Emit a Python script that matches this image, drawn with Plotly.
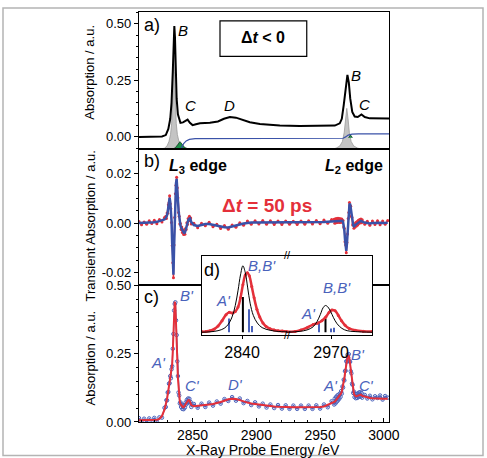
import plotly.graph_objects as go

# ---------------- DATA ----------------
# Panel a) ground-state absorption (black)
Ea = [2808, 2820, 2826, 2829, 2831, 2832.5, 2833.5, 2834.5, 2835.2, 2835.7, 2836.2, 2836.8, 2837.5,
      2838.5, 2840.5, 2842.5, 2844.5, 2846.1, 2847.9, 2850, 2852.6, 2855.8, 2863.6, 2869.9, 2874.6,
      2879.3, 2884, 2888.7, 2894.9, 2902.8, 2910.6, 2918.4, 2934, 2949.7, 2961.5, 2965.4, 2967,
      2968.5, 2970.1, 2971.4, 2972.5, 2973.6, 2975.2, 2977.1, 2979.5, 2982.4, 2985, 2988.9, 3004]
abs_a = [0.0, 0.0, 0.002, 0.008, 0.035, 0.08, 0.15, 0.29, 0.42, 0.49, 0.44, 0.30, 0.17,
         0.10, 0.062, 0.064, 0.070, 0.076, 0.062, 0.052, 0.056, 0.060, 0.062, 0.068, 0.080,
         0.088, 0.085, 0.075, 0.065, 0.057, 0.052, 0.050, 0.048, 0.048, 0.050, 0.060, 0.080,
         0.14, 0.22, 0.274, 0.24, 0.17, 0.11, 0.090, 0.088, 0.099, 0.088, 0.082, 0.081]
# calculated transitions (gray) and (green), edge step (blue)
gray3_E = [2824, 2828, 2830, 2831.5, 2832.7, 2833.6, 2834.4, 2835.0, 2835.4, 2835.8, 2836.4, 2837.2,
           2838.1, 2839.3, 2841, 2844, 2848]
gray3_v = [-0.055, -0.05, -0.04, -0.02, 0.01, 0.06, 0.15, 0.29, 0.36, 0.29, 0.15, 0.06,
           0.01, -0.02, -0.04, -0.05, -0.055]
green3_E = [2834, 2836.5, 2838.3, 2839.3, 2840.1, 2840.9, 2842, 2844, 2848]
green3_v = [-0.055, -0.048, -0.035, -0.026, -0.021, -0.026, -0.036, -0.048, -0.055]
gray2_E = [2958, 2962.5, 2965.5, 2967.5, 2968.9, 2969.9, 2970.9, 2971.9, 2972.9, 2974.3, 2976.3, 2979.5, 2984]
gray2_v = [-0.055, -0.05, -0.04, -0.02, 0.02, 0.08, 0.126, 0.08, 0.02, -0.02, -0.04, -0.05, -0.055]
green2_E = [2972.3, 2973.2, 2973.8, 2974.4, 2975.3]
green2_v = [-0.004, 0.004, 0.008, 0.004, -0.004]
step_E = [2808, 2840, 2841.5, 2843, 2845, 2847.5, 2852, 2965, 2968, 2970, 2972, 2975, 2980, 3004]
step_v = [-0.08, -0.08, -0.045, -0.03, -0.018, -0.011, -0.008, -0.008, -0.006, 0.0, 0.008, 0.012, 0.013, 0.013]
fill_base = -0.08

# Measurement grid for panels b) and c)
E_data = [2808, 2810, 2812, 2814, 2816, 2818, 2820, 2822, 2824, 2826, 2828,
          2829, 2829.5, 2830, 2830.5, 2831, 2831.5, 2832, 2832.5, 2833, 2833.5,
          2834, 2834.5, 2835, 2835.5, 2836, 2836.5, 2837, 2837.5, 2838, 2838.5,
          2839, 2839.5, 2840, 2840.5, 2841, 2841.5, 2842, 2842.5, 2843, 2843.5,
          2844, 2844.5, 2845, 2845.5, 2846, 2846.5, 2847, 2847.5, 2848, 2848.5, 2849,
          2851, 2854, 2857, 2860, 2863, 2866, 2869, 2872, 2875, 2878,
          2881, 2884, 2887, 2890, 2893, 2896, 2899, 2902, 2905, 2908,
          2911, 2914, 2917, 2920, 2923, 2926, 2929, 2932, 2935, 2938,
          2941, 2944, 2947, 2950, 2953, 2956, 2959,
          2961, 2961.5, 2962, 2962.5, 2963, 2963.5, 2964, 2964.5, 2965, 2965.5,
          2966, 2966.5, 2967, 2967.5, 2968, 2968.5, 2969, 2969.5, 2970, 2970.5,
          2971, 2971.5, 2972, 2972.5, 2973, 2973.5, 2974, 2974.5, 2975, 2975.5,
          2976, 2976.5, 2977, 2977.5, 2978, 2978.5, 2979, 2979.5, 2980, 2980.5,
          2981, 2981.5, 2982, 2982.5, 2983,
          2985, 2987, 2989, 2991, 2993, 2995, 2997, 2999, 3001, 3003]

# Panel b) transient absorption: fit (blue) and data (red)
trans_fit = [0.0000, 0.0000, 0.0000, 0.0001, 0.0001, 0.0002, 0.0003, 0.0005, 0.0008, 0.0012, 0.0015,
             0.0020, 0.0025, 0.0032, 0.0045, 0.0065, 0.0088, 0.0102, 0.0085, 0.0050, 0.0010,
             -0.0080, -0.0170, -0.0208, -0.0100, 0.0030, 0.0110, 0.0160, 0.0178, 0.0150, 0.0095,
             0.0050, 0.0020, 0.0005, -0.0010, -0.0018, -0.0025, -0.0030, -0.0035, -0.0038, -0.0040,
             -0.0038, -0.0030, -0.0018, -0.0008, 0.0002, 0.0010, 0.0016, 0.0020, 0.0019, 0.0012, 0.0004,
             -0.0008, -0.0012, -0.0008, -0.0004, -0.0004, -0.0008, -0.0012, -0.0015, -0.0017, -0.0018,
             -0.0015, -0.0010, -0.0006, -0.0002, 0.0001, 0.0002, 0.0002, 0.0002, 0.0003, 0.0002,
             0.0002, 0.0001, 0.0001, 0.0001, 0.0001, 0.0001, 0.0001, 0.0001, 0.0001, 0.0002,
             0.0002, 0.0002, 0.0003, 0.0003, 0.0004, 0.0005, 0.0006,
             0.0007, 0.0007, 0.0008, 0.0008, 0.0009, 0.0009, 0.0010, 0.0010, 0.0010, 0.0010,
             0.0010, 0.0010, 0.0010, 0.0009, 0.0004, -0.0008, -0.0030, -0.0065, -0.0095, -0.0112,
             -0.0085, -0.0035, 0.0010, 0.0050, 0.0075, 0.0078, 0.0060, 0.0035, 0.0015, 0.0000,
             -0.0010, -0.0013, -0.0012, -0.0009, -0.0006, -0.0004, -0.0002, 0.0000, 0.0003, 0.0005,
             0.0007, 0.0008, 0.0009, 0.0008, 0.0006,
             0.0002, -0.0001, -0.0002, 0.0000, 0.0001, 0.0000, 0.0001, 0.0000, 0.0001, 0.0001]
trans_data = [0.0006, -0.0007, 0.0004, -0.0005, 0.0009, -0.0002, 0.0011, -0.0003, 0.0014, 0.0004, 0.0022,
              0.0028, 0.0018, 0.0041, 0.0040, 0.0074, 0.0082, 0.0110, 0.0078, 0.0058, 0.0002,
              -0.0090, -0.0160, -0.0220, -0.0088, 0.0022, 0.0118, 0.0152, 0.0185, 0.0142, 0.0102,
              0.0043, 0.0028, -0.0004, -0.0002, -0.0026, -0.0016, -0.0038, -0.0027, -0.0046, -0.0032,
              -0.0045, -0.0022, -0.0026, 0.0001, -0.0006, 0.0018, 0.0009, 0.0028, 0.0012, 0.0020, -0.0004,
              -0.0001, -0.0019, -0.0001, -0.0011, 0.0003, -0.0015, -0.0005, -0.0022, -0.0010, -0.0025,
              -0.0008, -0.0017, 0.0001, -0.0009, 0.0008, -0.0005, 0.0009, -0.0004, 0.0010, -0.0005,
              0.0009, -0.0006, 0.0008, -0.0006, 0.0008, -0.0005, 0.0007, -0.0006, 0.0008, -0.0005,
              0.0009, -0.0004, 0.0010, -0.0003, 0.0012, -0.0001, 0.0014,
              0.0015, -0.0001, 0.0017, 0.0001, 0.0018, 0.0002, 0.0019, 0.0003, 0.0018, 0.0002,
              0.0017, 0.0004, 0.0016, 0.0002, 0.0010, -0.0016, -0.0022, -0.0075, -0.0088, -0.0120,
              -0.0078, -0.0044, 0.0018, 0.0043, 0.0083, 0.0070, 0.0068, 0.0028, 0.0022, -0.0008,
              -0.0002, -0.0021, -0.0004, -0.0016, 0.0002, -0.0012, 0.0006, -0.0008, 0.0011, -0.0002,
              0.0014, 0.0001, 0.0016, 0.0001, 0.0013,
              -0.0005, 0.0007, -0.0009, 0.0008, -0.0006, 0.0009, -0.0007, 0.0008, -0.0005, 0.0010]

# Panel c) excited-state absorption: fit (red) and data (blue)
exc_fit = [0.006, 0.006, 0.006, 0.006, 0.006, 0.007, 0.007, 0.008, 0.011, 0.022, 0.045,
           0.062, 0.072, 0.085, 0.100, 0.116, 0.132, 0.148, 0.160, 0.168, 0.185,
           0.210, 0.260, 0.330, 0.400, 0.440, 0.430, 0.380, 0.310, 0.230, 0.160,
           0.115, 0.090, 0.075, 0.066, 0.062, 0.058, 0.055, 0.054, 0.054, 0.056,
           0.060, 0.065, 0.070, 0.074, 0.077, 0.079, 0.080, 0.079, 0.074, 0.067, 0.062,
           0.058, 0.059, 0.060, 0.062, 0.064, 0.066, 0.069, 0.073, 0.078, 0.083,
           0.085, 0.084, 0.080, 0.075, 0.071, 0.068, 0.066, 0.063, 0.061, 0.059,
           0.058, 0.057, 0.056, 0.055, 0.055, 0.054, 0.054, 0.054, 0.054, 0.054,
           0.054, 0.054, 0.055, 0.055, 0.057, 0.062, 0.068,
           0.072, 0.074, 0.077, 0.080, 0.083, 0.086, 0.088, 0.090, 0.093, 0.096,
           0.100, 0.105, 0.112, 0.122, 0.134, 0.147, 0.160, 0.178, 0.196, 0.214,
           0.229, 0.238, 0.242, 0.240, 0.230, 0.213, 0.195, 0.170, 0.148, 0.128,
           0.113, 0.104, 0.098, 0.095, 0.094, 0.094, 0.095, 0.096, 0.098, 0.100,
           0.101, 0.101, 0.100, 0.098, 0.096,
           0.093, 0.090, 0.088, 0.087, 0.086, 0.085, 0.085, 0.085, 0.085, 0.085]
exc_data = [0.014, 0.001, 0.012, -0.002, 0.013, 0.003, 0.015, 0.002, 0.017, 0.016, 0.052,
            0.055, 0.080, 0.079, 0.108, 0.110, 0.140, 0.142, 0.168, 0.160, 0.193,
            0.204, 0.268, 0.322, 0.408, 0.432, 0.438, 0.372, 0.318, 0.222, 0.168,
            0.108, 0.097, 0.068, 0.072, 0.055, 0.064, 0.048, 0.060, 0.047, 0.062,
            0.053, 0.071, 0.064, 0.081, 0.071, 0.086, 0.074, 0.085, 0.068, 0.073, 0.055,
            0.066, 0.052, 0.067, 0.055, 0.071, 0.060, 0.075, 0.067, 0.084, 0.077,
            0.091, 0.078, 0.086, 0.069, 0.077, 0.062, 0.072, 0.057, 0.067, 0.053,
            0.064, 0.051, 0.062, 0.049, 0.061, 0.048, 0.060, 0.048, 0.060, 0.048,
            0.060, 0.048, 0.061, 0.049, 0.064, 0.054, 0.076,
            0.064, 0.086, 0.068, 0.092, 0.074, 0.097, 0.079, 0.100, 0.085, 0.104,
            0.092, 0.113, 0.104, 0.130, 0.126, 0.155, 0.152, 0.186, 0.188, 0.222,
            0.221, 0.246, 0.236, 0.248, 0.222, 0.220, 0.186, 0.178, 0.140, 0.136,
            0.106, 0.111, 0.091, 0.103, 0.087, 0.102, 0.088, 0.104, 0.091, 0.108,
            0.094, 0.109, 0.093, 0.106, 0.089,
            0.099, 0.086, 0.096, 0.083, 0.094, 0.088, 0.097, 0.082, 0.095, 0.089]

assert len(E_data) == len(trans_fit) == len(trans_data) == len(exc_fit) == len(exc_data), (
    len(E_data), len(trans_fit), len(trans_data), len(exc_fit), len(exc_data))

# Inset d): L3 section
dL3_calc_E = [2830, 2832, 2834, 2835.5, 2836.5, 2837.5, 2838.3, 2839, 2839.6, 2840.2, 2840.8, 2841.4,
              2842, 2842.8, 2843.8, 2845, 2847, 2849, 2851.2]
dL3_calc = [0.0, 0.005, 0.02, 0.05, 0.10, 0.20, 0.35, 0.55, 0.75, 0.87, 0.78, 0.58,
            0.38, 0.22, 0.12, 0.06, 0.025, 0.01, 0.005]
dL3_exp_E = [2830, 2831, 2832, 2833, 2834, 2835, 2836, 2836.8, 2837.6, 2838.3, 2839, 2839.6, 2840.2,
             2840.8, 2841.3, 2841.8, 2842.4, 2843, 2843.7, 2844.4, 2845.2, 2846, 2847, 2848, 2849, 2850, 2851.2]
dL3_exp = [0.005, 0.01, 0.02, 0.04, 0.08, 0.15, 0.23, 0.26, 0.25, 0.27, 0.33, 0.45, 0.62,
           0.75, 0.78, 0.74, 0.60, 0.45, 0.30, 0.20, 0.12, 0.075, 0.045, 0.03, 0.02, 0.015, 0.01]
dL3_gs_stick_E = [2840.2]
dL3_gs_stick = [0.46]
dL3_es_stick_E = [2836.7, 2841.6, 2842.4]
dL3_es_stick = [0.18, 0.30, 0.08]
# Inset d): L2 section
dL2_calc_E = [2959, 2962, 2964, 2965.5, 2966.5, 2967.3, 2968, 2968.6, 2969.2, 2969.9, 2970.6, 2971.5,
              2972.7, 2974, 2976, 2980.2]
dL2_calc = [0.0, 0.01, 0.03, 0.07, 0.14, 0.23, 0.32, 0.35, 0.33, 0.27, 0.19, 0.11, 0.05, 0.02, 0.008, 0.0]
dL2_exp_E = [2959, 2961, 2962.5, 2964, 2965.5, 2966.7, 2967.7, 2968.7, 2969.5, 2970.2, 2971, 2971.8,
             2972.6, 2973.5, 2974.5, 2976, 2978, 2980.2]
dL2_exp = [0.005, 0.01, 0.03, 0.06, 0.10, 0.12, 0.15, 0.20, 0.26, 0.29, 0.28, 0.22,
           0.15, 0.09, 0.05, 0.025, 0.012, 0.008]
dL2_gs_stick_E = [2968.6]
dL2_gs_stick = [0.18]
dL2_es_stick_E = [2967.1, 2970.0, 2970.8]
dL2_es_stick = [0.14, 0.05, 0.06]

# axis ranges / ticks
E_range = [2808, 3004]
ya_range = [-0.052, 0.552]
yb_range = [-0.0251, 0.030]
yc_range = [0.0, 0.5]
d3_range = [2830, 2851.2]
d2_range = [2959, 2980.2]
yd_range = [-0.03, 1.0]
abs_ticks = [0.0, 0.25, 0.5]
abs_ticktext = ["0.00", "0.25", "0.50"]
tr_ticks = [-0.02, 0.0, 0.02]
tr_ticktext = ["-0.02", "0.00", "0.02"]
E_ticks = [2850, 2900, 2950, 3000]

# ---------------- STYLE ----------------
FONT = "Liberation Sans, Arial, sans-serif"
RED = "#e4303a"
BLUE = "#3a52a8"
BLUE_L = "#4a62bb"
GRAY = "#c4c4c4"
GREEN = "#1f8f4a"

fig = go.Figure()

def base_trace(x, xa, ya):
    return go.Scatter(x=x, y=[fill_base] * len(x), mode="lines", line=dict(width=0),
                      xaxis=xa, yaxis=ya, hoverinfo="skip", showlegend=False)

# panel a
fig.add_trace(base_trace(gray2_E, "x", "y"))
fig.add_trace(go.Scatter(x=gray2_E, y=gray2_v, mode="lines", fill="tonexty", fillcolor=GRAY,
                         line=dict(color="#9a9a9a", width=0.8), xaxis="x", yaxis="y", showlegend=False))
fig.add_trace(go.Scatter(x=green2_E, y=green2_v, mode="lines", fill="toself", fillcolor=GREEN,
                         line=dict(color="#0d3d20", width=0.8), xaxis="x", yaxis="y", showlegend=False))
fig.add_trace(base_trace(gray3_E, "x", "y"))
fig.add_trace(go.Scatter(x=gray3_E, y=gray3_v, mode="lines", fill="tonexty", fillcolor=GRAY,
                         line=dict(color="#9a9a9a", width=0.8), xaxis="x", yaxis="y", showlegend=False))
fig.add_trace(base_trace(green3_E, "x", "y"))
fig.add_trace(go.Scatter(x=green3_E, y=green3_v, mode="lines", fill="tonexty", fillcolor=GREEN,
                         line=dict(color="#0d3d20", width=0.8), xaxis="x", yaxis="y", showlegend=False))
fig.add_trace(go.Scatter(x=step_E, y=step_v, mode="lines", line=dict(color=BLUE, width=1.2),
                         xaxis="x", yaxis="y", showlegend=False))
fig.add_trace(go.Scatter(x=Ea, y=abs_a, mode="lines", line=dict(color="black", width=2),
                         xaxis="x", yaxis="y", showlegend=False))

# panel b
fig.add_trace(go.Scatter(x=E_data, y=trans_data, mode="lines+markers",
                         line=dict(color=RED, width=1.4),
                         marker=dict(color=RED, size=3), xaxis="x2", yaxis="y2", showlegend=False))
fig.add_trace(go.Scatter(x=E_data, y=trans_fit, mode="lines", line=dict(color=BLUE, width=2.5),
                         xaxis="x2", yaxis="y2", showlegend=False))

# panel c
fig.add_trace(go.Scatter(x=E_data, y=exc_data, mode="lines+markers",
                         line=dict(color=BLUE_L, width=1.2),
                         marker=dict(color=BLUE_L, size=3.5, symbol="circle-open", line=dict(width=1)),
                         xaxis="x3", yaxis="y3", showlegend=False))
fig.add_trace(go.Scatter(x=E_data, y=exc_fit, mode="lines", line=dict(color=RED, width=2),
                         xaxis="x3", yaxis="y3", showlegend=False))

# inset d
for xa, ya, esE, es, expE, exp, cE, c, gsE, gs in [
        ("x4", "y4", dL3_es_stick_E, dL3_es_stick, dL3_exp_E, dL3_exp, dL3_calc_E, dL3_calc, dL3_gs_stick_E, dL3_gs_stick),
        ("x5", "y5", dL2_es_stick_E, dL2_es_stick, dL2_exp_E, dL2_exp, dL2_calc_E, dL2_calc, dL2_gs_stick_E, dL2_gs_stick)]:
    fig.add_trace(go.Bar(x=esE, y=es, width=0.25, marker=dict(color=BLUE_L, line=dict(width=0)),
                         xaxis=xa, yaxis=ya, showlegend=False))
    fig.add_trace(go.Scatter(x=expE, y=exp, mode="lines+markers", line=dict(color=RED, width=2.5, shape="spline"),
                             marker=dict(color=RED, size=3), xaxis=xa, yaxis=ya, showlegend=False))
    fig.add_trace(go.Scatter(x=cE, y=c, mode="lines", line=dict(color="black", width=1, shape="spline"),
                             xaxis=xa, yaxis=ya, showlegend=False))
    fig.add_trace(go.Bar(x=gsE, y=gs, width=0.5, marker=dict(color="black", line=dict(width=0)),
                         xaxis=xa, yaxis=ya, showlegend=False))

# ---------------- LAYOUT ----------------
ax_common = dict(showline=True, linecolor="black", linewidth=1.2, mirror=True,
                 showgrid=False, zeroline=False)
tickfont_y = dict(family=FONT, size=13, color="black")

fig.update_layout(
    width=487, height=458,
    margin=dict(l=139, r=98, t=5, b=36),
    paper_bgcolor="white", plot_bgcolor="white",
    barmode="overlay",
    font=dict(family=FONT, color="black"),
    xaxis=dict(domain=[0, 1], range=E_range, anchor="y", showticklabels=False, ticks="", **ax_common),
    xaxis2=dict(domain=[0, 1], range=E_range, anchor="y2", matches="x", showticklabels=False, ticks="", **ax_common),
    xaxis3=dict(domain=[0, 1], range=E_range, anchor="y3", matches="x", tickvals=E_ticks,
                ticks="inside", ticklen=4, tickcolor="black",
                minor=dict(dtick=10, tick0=2800, ticks="inside", ticklen=2, tickcolor="black"),
                tickfont=dict(family=FONT, size=14, color="black"), **ax_common),
    yaxis=dict(domain=[0.6667, 1], range=ya_range, anchor="x", tickvals=abs_ticks, ticktext=abs_ticktext,
               ticks="outside", ticklen=4, tickcolor="black",
               minor=dict(dtick=0.05, tick0=0, ticks="outside", ticklen=2, tickcolor="black"),
               tickfont=tickfont_y, **ax_common),
    yaxis2=dict(domain=[0.3333, 0.6667], range=yb_range, anchor="x2", tickvals=tr_ticks, ticktext=tr_ticktext,
                ticks="outside", ticklen=4, tickcolor="black",
                minor=dict(dtick=0.005, tick0=0, ticks="outside", ticklen=2, tickcolor="black"),
                tickfont=tickfont_y, **ax_common),
    yaxis3=dict(domain=[0, 0.3333], range=yc_range, anchor="x3", tickvals=abs_ticks, ticktext=abs_ticktext,
                ticks="outside", ticklen=4, tickcolor="black",
                minor=dict(dtick=0.05, tick0=0, ticks="outside", ticklen=2, tickcolor="black"),
                tickfont=tickfont_y, **ax_common),
    xaxis4=dict(domain=[0.252, 0.592], range=d3_range, anchor="y4", tickvals=[2840], ticks="outside",
                ticklen=3, tickcolor="black", tickfont=dict(family=FONT, size=16, color="black"),
                **ax_common),
    xaxis5=dict(domain=[0.592, 0.932], range=d2_range, anchor="y5", tickvals=[2970], ticks="outside",
                ticklen=3, tickcolor="black", tickfont=dict(family=FONT, size=16, color="black"),
                **ax_common),
    yaxis4=dict(domain=[0.2134, 0.4053], range=yd_range, anchor="x4", showticklabels=False, ticks="",
                showline=True, linecolor="black", linewidth=1.2, mirror=False, showgrid=False, zeroline=False),
    yaxis5=dict(domain=[0.2134, 0.4053], range=yd_range, anchor="x5", side="right", showticklabels=False,
                ticks="", showline=True, linecolor="black", linewidth=1.2, mirror=False,
                showgrid=False, zeroline=False),
)

# inset white backgrounds (drawn in the inset subplot layers, above the main panels)
fig.add_shape(type="rect", xref="x4", yref="y4", x0=d3_range[0], x1=d3_range[1], y0=yd_range[0], y1=yd_range[1],
              fillcolor="white", line=dict(width=0), layer="below")
fig.add_shape(type="rect", xref="x5", yref="y5", x0=d2_range[0], x1=d2_range[1], y0=yd_range[0], y1=yd_range[1],
              fillcolor="white", line=dict(width=0), layer="below")
# outer frame
fig.add_shape(type="rect", xref="paper", yref="paper", x0=-0.544, x1=1.376, y0=-0.0815, y1=1.0096,
              line=dict(color="#b4b4b4", width=1.5), fillcolor="rgba(0,0,0,0)", layer="below")
# box around Δt < 0
fig.add_shape(type="rect", xref="paper", yref="paper", x0=0.324, x1=0.671, y0=0.8916, y1=0.9784,
              line=dict(color="black", width=1.2), fillcolor="white")

def ann(text, x, y, size=15, color="black", angle=0, **kw):
    fig.add_annotation(text=text, x=x, y=y, xref="paper", yref="paper", showarrow=False,
                       xanchor="center", yanchor="middle", textangle=angle,
                       font=dict(family=FONT, size=size, color=color), **kw)

# panel labels
ann("a)", 0.051, 0.968, size=18)
ann("b)", 0.051, 0.636, size=18)
ann("c)", 0.051, 0.3046, size=18)
ann("d)", 0.292, 0.3717, size=18)
# panel a peak labels
ann("<i>B</i>", 0.177, 0.956)
ann("<i>C</i>", 0.204, 0.772)
ann("<i>D</i>", 0.361, 0.772)
ann("<i>B</i>", 0.868, 0.844)
ann("<i>C</i>", 0.900, 0.774)
ann("<b>Δ<i>t</i> &lt; 0</b>", 0.497, 0.9376, size=16)
# panel b labels
ann("<b><i>L</i><sub>3</sub> edge</b>", 0.237, 0.622, size=16)
ann("<b><i>L</i><sub>2</sub> edge</b>", 0.86, 0.622, size=16)
ann("<b>Δ<i>t</i> = 50 ps</b>", 0.513, 0.528, size=19, color=RED)
# panel c labels
for t, x, y in [("B'", 0.191, 0.3086), ("A'", 0.077, 0.1446), ("C'", 0.215, 0.0887), ("D'", 0.384, 0.0911),
                ("A'", 0.767, 0.0887), ("B'", 0.877, 0.1647), ("C'", 0.908, 0.0887)]:
    ann("<i>" + t + "</i>", x, y, color=BLUE_L)
# inset labels
for t, x, y in [("B,B'", 0.492, 0.3813), ("A'", 0.336, 0.2974), ("B,B'", 0.791, 0.3285), ("A'", 0.676, 0.2645)]:
    ann("<i>" + t + "</i>", x, y, color=BLUE_L)
ann("//", 0.592, 0.4063, size=11)
ann("//", 0.592, 0.2124, size=11)
# axis titles
ann("Absorption / a.u.", -0.196, 0.852, size=13, angle=-90)
ann("Transient Absorption / a.u.", -0.196, 0.477, size=13, angle=-90)
ann("Absorption / a.u.", -0.196, 0.155, size=13, angle=-90)
ann("X-Ray Probe Energy /eV", 0.497, -0.0690, size=14)

fig.write_html("out.html")
